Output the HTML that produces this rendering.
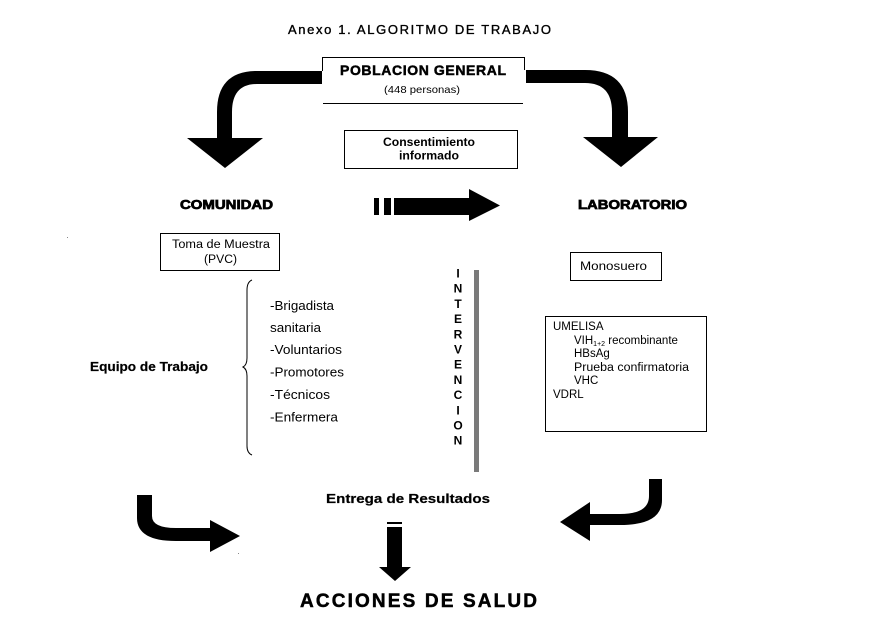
<!DOCTYPE html>
<html>
<head>
<meta charset="utf-8">
<style>
  html,body{margin:0;padding:0;background:#fff;}
  svg{display:block;}
  text{font-family:"Liberation Sans", Arial, sans-serif;fill:#000;}
</style>
</head>
<body>
<svg width="893" height="636" viewBox="0 0 893 636" xmlns="http://www.w3.org/2000/svg">
  <rect width="893" height="636" fill="#fff"/>

  <!-- Title -->
  <text x="288" y="34" font-size="13" stroke="#000" stroke-width="0.35" textLength="263" lengthAdjust="spacing">Anexo 1. ALGORITMO DE TRABAJO</text>

  <!-- Poblacion general box lines -->
  <line x1="322.5" y1="57.5" x2="524.5" y2="57.5" stroke="#000" stroke-width="1"/>
  <line x1="322.5" y1="57" x2="322.5" y2="71" stroke="#000" stroke-width="1"/>
  <line x1="524.5" y1="57" x2="524.5" y2="70" stroke="#000" stroke-width="1"/>
  <line x1="323" y1="103.5" x2="523" y2="103.5" stroke="#000" stroke-width="1"/>
  <text x="340" y="75" font-size="14" font-weight="bold" stroke="#000" stroke-width="0.5" textLength="166" lengthAdjust="spacing">POBLACION GENERAL</text>
  <text x="384" y="93" font-size="10.5" textLength="76" lengthAdjust="spacingAndGlyphs">(448 personas)</text>

  <!-- Top left curved arrow -->
  <path d="M322,71 L257,71 Q217,71 217,112 L217,138 L187,138 L225,168 L263,138 L232,138 L232,112 Q232,84 257,84 L322,84 Z" fill="#000"/>
  <!-- Top right curved arrow -->
  <path d="M526,70 L585,70 Q628,70 628,112 L628,137 L658,137 L621,167 L583,137 L612,137 L612,112 Q612,83 585,83 L526,83 Z" fill="#000"/>

  <!-- Consentimiento -->
  <rect x="344.5" y="130.5" width="173" height="38" fill="none" stroke="#000" stroke-width="1"/>
  <text x="383" y="146" font-size="12" font-weight="bold" textLength="92" lengthAdjust="spacingAndGlyphs">Consentimiento</text>
  <text x="399" y="159.5" font-size="12" font-weight="bold" textLength="60" lengthAdjust="spacingAndGlyphs">informado</text>

  <!-- Headings -->
  <text x="180" y="209" font-size="12.5" font-weight="bold" stroke="#000" stroke-width="0.7" textLength="93" lengthAdjust="spacingAndGlyphs">COMUNIDAD</text>
  <text x="578" y="209" font-size="12.5" font-weight="bold" stroke="#000" stroke-width="0.7" textLength="109" lengthAdjust="spacingAndGlyphs">LABORATORIO</text>

  <!-- Middle arrow -->
  <rect x="374" y="198" width="5" height="17" fill="#000"/>
  <rect x="384" y="198" width="7" height="17" fill="#000"/>
  <path d="M394,198 L469,198 L469,189 L500,205.5 L469,221 L469,215 L394,215 Z" fill="#000"/>

  <!-- small dot -->
  <rect x="67" y="237" width="1" height="1" fill="#888"/>

  <!-- Toma de muestra -->
  <rect x="160.5" y="233.5" width="119" height="37" fill="none" stroke="#000" stroke-width="1"/>
  <text x="172" y="248" font-size="11.5" textLength="98" lengthAdjust="spacingAndGlyphs">Toma de Muestra</text>
  <text x="204" y="263" font-size="11.5" textLength="33" lengthAdjust="spacingAndGlyphs">(PVC)</text>

  <!-- Monosuero -->
  <rect x="570.5" y="252.5" width="91" height="28" fill="none" stroke="#000" stroke-width="1"/>
  <text x="580" y="270" font-size="12" textLength="67" lengthAdjust="spacingAndGlyphs">Monosuero</text>

  <!-- Brace -->
  <path d="M252,280 Q247,282 247,290 L247,358 Q247,365 243,367 Q247,369 247,376 L247,446 Q247,453 252,455" fill="none" stroke="#000" stroke-width="1"/>

  <!-- List -->
  <text x="270" y="310" font-size="12.5" textLength="64" lengthAdjust="spacingAndGlyphs">-Brigadista</text>
  <text x="270" y="332" font-size="12.5" textLength="51" lengthAdjust="spacingAndGlyphs">sanitaria</text>
  <text x="270" y="354" font-size="12.5" textLength="72" lengthAdjust="spacingAndGlyphs">-Voluntarios</text>
  <text x="270" y="376.5" font-size="12.5" textLength="74" lengthAdjust="spacingAndGlyphs">-Promotores</text>
  <text x="270" y="399" font-size="12.5" textLength="60" lengthAdjust="spacingAndGlyphs">-Técnicos</text>
  <text x="270" y="421.5" font-size="12.5" textLength="68" lengthAdjust="spacingAndGlyphs">-Enfermera</text>

  <text x="90" y="371" font-size="13" font-weight="bold" stroke="#000" stroke-width="0.2" textLength="118" lengthAdjust="spacingAndGlyphs">Equipo de Trabajo</text>

  <!-- INTERVENCION -->
  <g font-size="12" font-weight="bold" text-anchor="middle">
    <text x="458" y="277.5">I</text>
    <text x="458" y="292.5">N</text>
    <text x="458" y="308">T</text>
    <text x="458" y="323">E</text>
    <text x="458" y="338.5">R</text>
    <text x="458" y="353.5">V</text>
    <text x="458" y="368.5">E</text>
    <text x="458" y="384">N</text>
    <text x="458" y="399">C</text>
    <text x="458" y="414.5">I</text>
    <text x="458" y="429.5">O</text>
    <text x="458" y="444.5">N</text>
  </g>
  <rect x="474" y="270" width="5" height="202" fill="#7a7a7a"/>

  <!-- UMELISA box -->
  <rect x="545.5" y="316.5" width="161" height="115" fill="none" stroke="#000" stroke-width="1"/>
  <text x="553" y="330" font-size="11.5">UMELISA</text>
  <text x="574" y="344" font-size="11.5">VIH<tspan font-size="7" dy="2">1+2</tspan><tspan dy="-2"> recombinante</tspan></text>
  <text x="574" y="357" font-size="11.5">HBsAg</text>
  <text x="574" y="371" font-size="11.5" textLength="115" lengthAdjust="spacingAndGlyphs">Prueba confirmatoria</text>
  <text x="574" y="384" font-size="11.5">VHC</text>
  <text x="553" y="398" font-size="11.5">VDRL</text>

  <!-- Entrega de resultados -->
  <text x="326" y="503" font-size="13" font-weight="bold" stroke="#000" stroke-width="0.2" textLength="164" lengthAdjust="spacingAndGlyphs">Entrega de Resultados</text>

  <!-- Bottom left arrow -->
  <path d="M137,495 L152,495 L152,516 Q152,528 176,528 L210,528 L210,520 L240,536 L210,552 L210,541 L176,541 Q137,541 137,518 Z" fill="#000"/>
  <rect x="238" y="553" width="1" height="1" fill="#888"/>

  <!-- Bottom right arrow -->
  <path d="M649,479 L662,479 L662,500 Q662,525 620,525 L590,525 L590,541 L560,522 L590,502 L590,514 L620,514 Q649,514 649,496 Z" fill="#000"/>

  <!-- Down arrow -->
  <rect x="387" y="522" width="15" height="2" fill="#000"/>
  <path d="M387,527 L402,527 L402,567 L411,567 L395,581 L379,567 L387,567 Z" fill="#000"/>

  <!-- Acciones de salud -->
  <text x="300" y="607" font-size="19" font-weight="bold" stroke="#000" stroke-width="0.5" textLength="237" lengthAdjust="spacing">ACCIONES DE SALUD</text>
</svg>
</body>
</html>
